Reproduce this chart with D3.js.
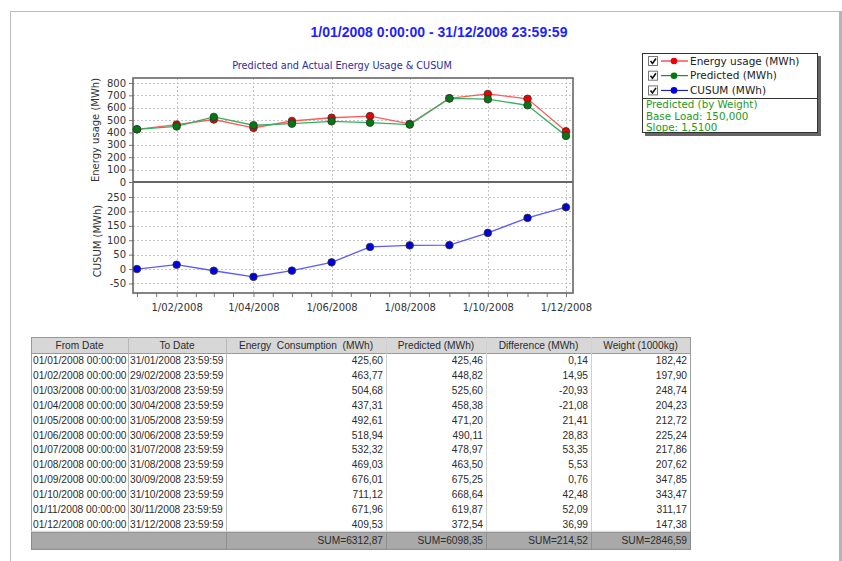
<!DOCTYPE html>
<html>
<head>
<meta charset="utf-8">
<script src="https://cdn.jsdelivr.net/npm/d3@7"></script>
<style>
  body { margin: 0; background: #fff; }
  svg { display: block; }
  text { font-family: "DejaVu Sans", Verdana, sans-serif; }
  .tbl text { font-family: "Liberation Sans", Tahoma, Arial, sans-serif; font-size: 10.2px; fill: #2b2b2b; }
</style>
</head>
<body>
<div id="chart"></div>
<script>
// ---- data ----
const periodTitle = "1/01/2008 0:00:00 - 31/12/2008 23:59:59";
const chartTitle = "Predicted and Actual Energy Usage & CUSUM";
const months = ["2008-01-01", "2008-02-01", "2008-03-01", "2008-04-01", "2008-05-01", "2008-06-01",
                "2008-07-01", "2008-08-01", "2008-09-01", "2008-10-01", "2008-11-01", "2008-12-01"];
const fromDates = ["01/01/2008 00:00:00", "01/02/2008 00:00:00", "01/03/2008 00:00:00", "01/04/2008 00:00:00",
                   "01/05/2008 00:00:00", "01/06/2008 00:00:00", "01/07/2008 00:00:00", "01/08/2008 00:00:00",
                   "01/09/2008 00:00:00", "01/10/2008 00:00:00", "01/11/2008 00:00:00", "01/12/2008 00:00:00"];
const toDates = ["31/01/2008 23:59:59", "29/02/2008 23:59:59", "31/03/2008 23:59:59", "30/04/2008 23:59:59",
                 "31/05/2008 23:59:59", "30/06/2008 23:59:59", "31/07/2008 23:59:59", "31/08/2008 23:59:59",
                 "30/09/2008 23:59:59", "31/10/2008 23:59:59", "30/11/2008 23:59:59", "31/12/2008 23:59:59"];
const energy = [425.60, 463.77, 504.68, 437.31, 492.61, 518.94, 532.32, 469.03, 676.01, 711.12, 671.96, 409.53];
const predicted = [425.46, 448.82, 525.60, 458.38, 471.20, 490.11, 478.97, 463.50, 675.25, 668.64, 619.87, 372.54];
const difference = [0.14, 14.95, -20.93, -21.08, 21.41, 28.83, 53.35, 5.53, 0.76, 42.48, 52.09, 36.99];
const weight = [182.42, 197.90, 248.74, 204.23, 212.72, 225.24, 217.86, 207.62, 347.85, 343.47, 311.17, 147.38];
const cusum = [0.14, 15.09, -5.84, -26.92, -5.51, 23.32, 76.67, 82.20, 82.96, 125.44, 177.53, 214.52];
const sums = [6312.87, 6098.35, 214.52, 2846.59];

const energyTicks = [0, 100, 200, 300, 400, 500, 600, 700, 800];
const cusumTicks = [-50, 0, 50, 100, 150, 200, 250];
const labelMonths = ["2008-02-01", "2008-04-01", "2008-06-01", "2008-08-01", "2008-10-01", "2008-12-01"];

const headers = ["From Date", "To Date", "Energy  Consumption  (MWh)", "Predicted (MWh)", "Difference (MWh)", "Weight (1000kg)"];
const seriesNames = ["Energy usage (MWh)", "Predicted (MWh)", "CUSUM (MWh)"];
const modelInfo = ["Predicted (by Weight)", "Base Load: 150,000", "Slope: 1,5100"];

// ---- setup ----
const width = 842, height = 561;
const parse = d3.timeParse("%Y-%m-%d");
const dates = months.map(parse);
const locale = d3.formatLocale({ decimal: ",", thousands: "", grouping: [3], currency: ["", ""], minus: "-" });
const num = locale.format(".2f");

const svg = d3.select("#chart").append("svg")
    .attr("width", width)
    .attr("height", height);

// outer panel frame
svg.append("rect")
    .attr("x", 10.5).attr("y", 11.5)
    .attr("width", 829).attr("height", 570)
    .attr("fill", "#fff").attr("stroke", "#bdbdbd");
svg.append("rect")
    .attr("x", 839).attr("y", 11).attr("width", 3).attr("height", 560)
    .attr("fill", "#b5b5b5");

svg.append("text")
    .attr("x", 439).attr("y", 37)
    .attr("text-anchor", "middle")
    .style("font-family", "'Liberation Sans', Arial, sans-serif")
    .style("font-size", "14px").style("font-weight", "bold")
    .attr("fill", "#1f1fff")
    .text(periodTitle);

svg.append("text")
    .attr("x", 342).attr("y", 69)
    .attr("text-anchor", "middle")
    .style("font-size", "9.7px")
    .attr("fill", "#2c2c9c")
    .text(chartTitle);

// ---- scales ----
const left = 133, right = 573;
const x = d3.scaleTime()
    .domain([new Date(2007, 11, 28, 22), new Date(2008, 11, 6, 12)])
    .range([left, right]);
const yTop = d3.scaleLinear().domain([0, 840]).range([182, 78]);
const yBot = d3.scaleLinear().domain([-83, 302]).range([293, 182]);

const grid = svg.append("g").attr("stroke", "#c4c4c4").attr("stroke-dasharray", "2,2");
grid.selectAll(".hg1").data(energyTicks.filter(d => d > 0)).join("line")
    .attr("x1", left).attr("x2", right)
    .attr("y1", d => Math.round(yTop(d)) + 0.5).attr("y2", d => Math.round(yTop(d)) + 0.5);
grid.selectAll(".hg2").data(cusumTicks).join("line")
    .attr("x1", left).attr("x2", right)
    .attr("y1", d => Math.round(yBot(d)) + 0.5).attr("y2", d => Math.round(yBot(d)) + 0.5);
grid.selectAll(".vg").data(labelMonths.map(parse)).join("line")
    .attr("x1", d => Math.round(x(d)) + 0.5).attr("x2", d => Math.round(x(d)) + 0.5)
    .attr("y1", 78).attr("y2", 293);

function styleAxis(g) {
    g.select(".domain").remove();
    g.selectAll(".tick line").attr("stroke", "#777");
    g.selectAll(".tick text").attr("fill", "#333").style("font-size", "10px");
}

// y axes: tick marks from d3 axes
svg.append("g").attr("transform", `translate(${left},0)`)
    .call(d3.axisLeft(yTop).tickValues(energyTicks).tickSize(4).tickFormat(""))
    .call(styleAxis);
svg.append("g").attr("transform", `translate(${left},0)`)
    .call(d3.axisLeft(yBot).tickValues(cusumTicks).tickSize(4).tickFormat(""))
    .call(styleAxis);

// x axis: ticks on the 1st and mid of each month, labels every 2 months
const tickDates = [];
dates.forEach(d => {
    tickDates.push(d);
    const mid = d3.timeDay.offset(d, 15);
    if (mid < x.domain()[1]) tickDates.push(mid);
});
const fmt = d3.timeFormat("%-d/%m/%Y");
svg.append("g").attr("transform", "translate(0,293)")
    .call(d3.axisBottom(x).tickValues(tickDates).tickSize(4).tickPadding(7)
        .tickFormat(d => labelMonths.includes(d3.timeFormat("%Y-%m-%d")(d)) ? fmt(d) : ""))
    .call(styleAxis);

// frames
svg.append("rect").attr("x", left).attr("y", 78).attr("width", right - left).attr("height", 215)
    .attr("fill", "none").attr("stroke", "#666").attr("stroke-width", 1.6);
svg.append("line").attr("x1", left).attr("x2", right).attr("y1", 182).attr("y2", 182)
    .attr("stroke", "#666").attr("stroke-width", 2);

// axis titles
svg.append("text")
    .attr("transform", "translate(99,130) rotate(-90)")
    .attr("text-anchor", "middle").style("font-size", "10px").attr("fill", "#333")
    .text("Energy usage (MWh)");
svg.append("text")
    .attr("transform", "translate(101,241) rotate(-90)")
    .attr("text-anchor", "middle").style("font-size", "10px").attr("fill", "#333")
    .text("CUSUM (MWh)");

// ---- series ----
const series = [
    { values: energy, y: yTop, line: "#ff5a5a", dot: "#ee0000" },
    { values: predicted, y: yTop, line: "#35b060", dot: "#007a10" },
    { values: cusum, y: yBot, line: "#5a5aff", dot: "#0000dd" }
];
series.forEach(s => {
    const line = d3.line().x((d, i) => x(dates[i])).y(d => s.y(d));
    svg.append("path").datum(s.values)
        .attr("d", line).attr("fill", "none")
        .attr("stroke", s.line).attr("stroke-width", 1.3);
});
series.forEach(s => {
    svg.append("g").selectAll("circle").data(s.values).join("circle")
        .attr("cx", (d, i) => x(dates[i])).attr("cy", d => s.y(d))
        .attr("r", 3.8).attr("fill", s.dot)
        .attr("stroke", "#333").attr("stroke-width", 0.8);
});

// ---- legend ----
const lg = svg.append("g");
lg.append("rect").attr("x", 645).attr("y", 56).attr("width", 176).attr("height", 80).attr("fill", "#666");
lg.append("rect").attr("x", 642.5).attr("y", 53.5).attr("width", 175).attr("height", 79)
    .attr("fill", "#fff").attr("stroke", "#333");
lg.append("line").attr("x1", 643).attr("x2", 817).attr("y1", 98.5).attr("y2", 98.5).attr("stroke", "#333");
seriesNames.forEach((name, i) => {
    const cy = 61 + i * 14.7;
    lg.append("rect").attr("x", 648.5).attr("y", cy - 4.5).attr("width", 9).attr("height", 9)
        .attr("fill", "#fff").attr("stroke", "#777");
    lg.append("path").attr("d", `M650.5,${cy} l2,2.5 l3.5,-5`)
        .attr("fill", "none").attr("stroke", "#111").attr("stroke-width", 1.6);
    lg.append("line").attr("x1", 661).attr("x2", 688).attr("y1", cy).attr("y2", cy)
        .attr("stroke", series[i].dot === "#007a10" ? "#006a00" : series[i].dot).attr("stroke-width", 1);
    lg.append("circle").attr("cx", 674).attr("cy", cy).attr("r", 3.3).attr("fill", series[i].dot);
    lg.append("text").attr("x", 690).attr("y", cy + 3.5)
        .style("font-size", "10.5px").attr("fill", "#222").text(name);
});
modelInfo.forEach((t, i) => {
    lg.append("text").attr("x", 646).attr("y", 108 + i * 11.5)
        .style("font-size", "10.3px").attr("fill", "#1c9a1c").text(t);
});

// ---- table ----
const cols = [31, 128, 226, 386, 486, 591, 690];
const headTop = 337, headH = 16, rowH = 14.9;
const bodyTop = headTop + headH;
const footTop = bodyTop + fromDates.length * rowH;
const footH = 17;
const tbl = svg.append("g").attr("class", "tbl");

tbl.append("rect").attr("x", cols[0] + 0.5).attr("y", headTop + 0.5)
    .attr("width", cols[6] - cols[0]).attr("height", footTop + footH - headTop)
    .attr("fill", "#fff").attr("stroke", "#a0a0a0");
tbl.append("rect").attr("x", cols[0] + 0.5).attr("y", headTop + 0.5)
    .attr("width", cols[6] - cols[0]).attr("height", headH)
    .attr("fill", "#d7d7d7").attr("stroke", "#999");
tbl.append("rect").attr("x", cols[0] + 0.5).attr("y", footTop + 0.5)
    .attr("width", cols[6] - cols[0]).attr("height", footH)
    .attr("fill", "#a9a9a9").attr("stroke", "#8a8a8a");

// column dividers
cols.slice(1, 6).forEach((c, i) => {
    tbl.append("line").attr("x1", c + 0.5).attr("x2", c + 0.5)
        .attr("y1", headTop).attr("y2", footTop)
        .attr("stroke", i === 0 || i === 1 ? "#b8b8b8" : "#d0d0d0");
    if (i >= 1) {
        tbl.append("line").attr("x1", c + 0.5).attr("x2", c + 0.5)
            .attr("y1", footTop).attr("y2", footTop + footH + 0.5)
            .attr("stroke", "#8f8f8f");
    }
});
tbl.append("line").attr("x1", cols[0]).attr("x2", cols[6]).attr("y1", footTop - 0.5).attr("y2", footTop - 0.5)
    .attr("stroke", "#d8d8d8");

headers.forEach((h, i) => {
    tbl.append("text").attr("x", (cols[i] + cols[i + 1]) / 2).attr("y", headTop + 11.8)
        .attr("text-anchor", "middle").attr("xml:space", "preserve").text(h);
});

const rows = fromDates.map((f, i) => [f, toDates[i], num(energy[i]), num(predicted[i]), num(difference[i]), num(weight[i])]);
rows.forEach((r, ri) => {
    const ty = bodyTop + ri * rowH + 11;
    r.forEach((v, ci) => {
        const t = tbl.append("text").attr("y", ty).text(v);
        if (ci < 2) t.attr("x", cols[ci] + 2);
        else t.attr("x", cols[ci + 1] - 3).attr("text-anchor", "end");
    });
});
sums.forEach((s, i) => {
    tbl.append("text").attr("x", cols[i + 3] - 3).attr("y", footTop + 12.2)
        .attr("text-anchor", "end").text("SUM=" + num(s));
});

// y tick labels
const yLabels = svg.append("g")
    .attr("text-anchor", "end")
    .style("font-size", "10px")
    .attr("fill", "#333");
yLabels.selectAll(".lt").data(energyTicks).join("text")
    .attr("class", "lt")
    .attr("x", 126).attr("y", d => yTop(d) + 3.6).text(d => d);
yLabels.selectAll(".lb").data(cusumTicks).join("text")
    .attr("class", "lb")
    .attr("x", 126).attr("y", d => yBot(d) + 3.6).text(d => d);
</script>
</body>
</html>
